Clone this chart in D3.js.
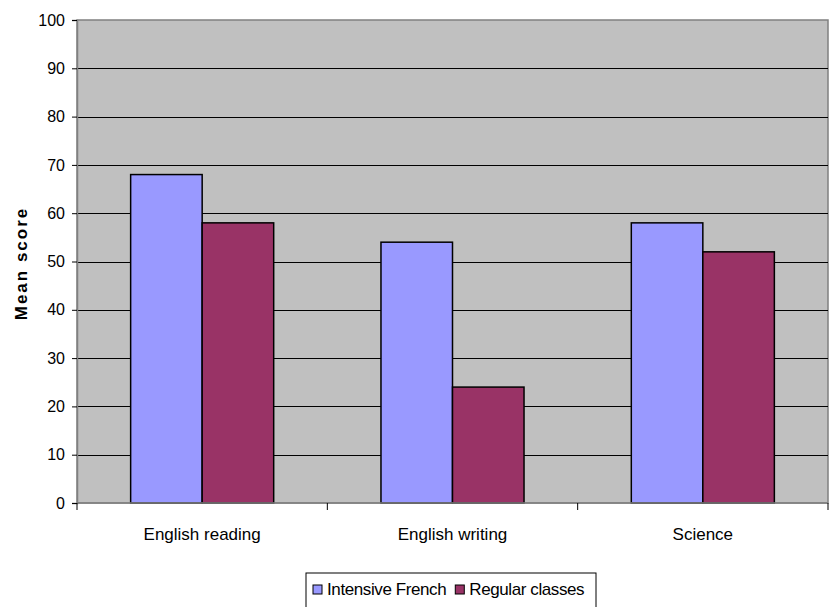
<!DOCTYPE html>
<html>
<head>
<meta charset="utf-8">
<script src="https://cdn.jsdelivr.net/npm/d3@7"></script>
<style>
  body { margin: 0; background: #fff; }
  text { font-family: "Liberation Sans", Arial, sans-serif; fill: #000; }
</style>
</head>
<body>
<div id="chart"></div>
<script>
// data
const categories = ["English reading", "English writing", "Science"];
const seriesNames = ["Intensive French", "Regular classes"];
const intensiveFrench = [68, 54, 58];
const regularClasses = [58, 24, 52];
const yTicks = [0, 10, 20, 30, 40, 50, 60, 70, 80, 90, 100];
const colors = ["#9999FF", "#993366"];

const W = 831, H = 607;
const margin = { top: 20, right: 3, bottom: 104, left: 77 };
const width = W - margin.left - margin.right;
const height = H - margin.top - margin.bottom;

const svg = d3.select("#chart").append("svg")
    .attr("width", W).attr("height", H);
const g = svg.append("g").attr("transform", `translate(${margin.left},${margin.top})`);

const x = d3.scaleBand().domain(categories).range([0, width]).paddingInner(0).paddingOuter(0);
const x1 = d3.scaleBand().domain(seriesNames).range([0, x.bandwidth()]).paddingInner(0).paddingOuter(0.75);
const y = d3.scaleLinear().domain([0, 100]).range([height, 0]);

// plot background
g.append("rect").attr("width", width).attr("height", height)
    .attr("fill", "#C0C0C0").attr("stroke", "#808080").attr("stroke-width", 1.5);

// gridlines
g.selectAll(".grid").data(yTicks.filter(d => d > 0 && d < 100)).enter().append("line")
    .attr("x1", 0).attr("x2", width)
    .attr("y1", d => Math.round(y(d)) + 0.5).attr("y2", d => Math.round(y(d)) + 0.5)
    .attr("stroke", "#000").attr("stroke-width", 1);

// bars
const rows = categories.map((c, i) => ({ cat: c, vals: [intensiveFrench[i], regularClasses[i]] }));
const grp = g.selectAll(".cat").data(rows).enter().append("g")
    .attr("transform", d => `translate(${x(d.cat)},0)`);
grp.selectAll("rect").data(d => d.vals.map((v, j) => ({ name: seriesNames[j], v, j }))).enter().append("rect")
    .attr("x", d => x1(d.name))
    .attr("width", x1.bandwidth())
    .attr("y", d => y(d.v))
    .attr("height", d => height - y(d.v))
    .attr("fill", d => colors[d.j])
    .attr("stroke", "#000").attr("stroke-width", 1.5);

// y axis
const yAxis = g.append("g")
    .call(d3.axisLeft(y).tickValues(yTicks).tickSize(5).tickPadding(7));
yAxis.select(".domain").attr("stroke", "#808080").attr("stroke-width", 1.5);
yAxis.selectAll(".tick line").attr("stroke", "#000");
yAxis.selectAll("text").style("font-size", "16px");

// x axis: ticks at category boundaries
const xAxis = g.append("g").attr("transform", `translate(0,${height})`);
xAxis.append("line").attr("x1", 0).attr("x2", width).attr("stroke", "#808080").attr("stroke-width", 1.5);
xAxis.selectAll(".xt").data(d3.range(categories.length + 1)).enter().append("line")
    .attr("x1", i => i * x.step()).attr("x2", i => i * x.step())
    .attr("y1", 0).attr("y2", 7).attr("stroke", "#000");
xAxis.selectAll(".xl").data(categories).enter().append("text")
    .attr("x", d => x(d) + x.bandwidth() / 2)
    .attr("y", 37)
    .attr("text-anchor", "middle")
    .style("font-size", "17px")
    .text(d => d);

// y label
svg.append("text")
    .attr("transform", `translate(27,${margin.top + height / 2 + 2}) rotate(-90)`)
    .attr("text-anchor", "middle")
    .style("font-size", "17px").style("font-weight", "bold")
    .style("letter-spacing", "2px")
    .text("Mean score");

// legend
const legend = svg.append("g").attr("transform", "translate(306,573)");
legend.append("rect").attr("width", 290).attr("height", 40)
    .attr("fill", "#fff").attr("stroke", "#000").attr("stroke-width", 1);
let lx = 7;
seriesNames.forEach((s, i) => {
    legend.append("rect").attr("x", lx).attr("y", 12).attr("width", 9).attr("height", 9)
        .attr("fill", colors[i]).attr("stroke", "#000").attr("stroke-width", 1);
    const t = legend.append("text").attr("x", lx + 14).attr("y", 22)
        .style("font-size", "17px").style("letter-spacing", "-0.4px").text(s);
    lx += 14 + t.node().getComputedTextLength() + 9;
});
</script>
</body>
</html>
